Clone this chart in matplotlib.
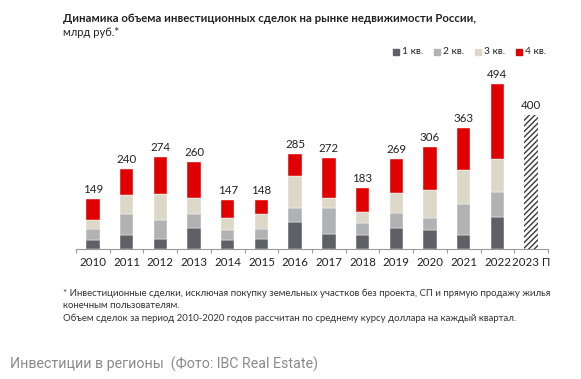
import matplotlib
matplotlib.use("Agg")
import matplotlib.pyplot as plt
import numpy as np

years = ["2010", "2011", "2012", "2013", "2014", "2015", "2016", "2017",
         "2018", "2019", "2020", "2021", "2022", "2023 П"]
q1 = [28, 43, 29, 62, 26, 31, 80, 45, 41, 64, 56, 41, 97]
q2 = [32, 63, 58, 42, 30, 30, 43, 79, 36, 45, 36, 95, 73]
q3 = [28, 55, 78, 49, 36, 43, 97, 29, 35, 59, 85, 101, 98]
totals = [149, 240, 274, 260, 147, 148, 285, 272, 183, 269, 306, 363, 494]
forecast = 400
q4 = [t - a - b - c for t, a, b, c in zip(totals, q1, q2, q3)]

labels = ["1 кв.", "2 кв.", "3 кв.", "4 кв."]
colors = ["#5e6065", "#b1b2b4", "#dcd7c7", "#e00000"]

plt.rcParams["font.family"] = ["Lato", "DejaVu Sans"]
W, H = 581, 379
fig = plt.figure(figsize=(W / 100, H / 100), dpi=100)
fig.patch.set_facecolor("white")

unit = 0.334  # px per value
ytop = 520
base_px = 249
ax = fig.add_axes([76 / W, (H - base_px) / H, 472 / W, ytop * unit / H])

x = np.arange(len(totals))
bw = 0.4
bottom = np.zeros(len(totals))
for vals, c in zip([q1, q2, q3, q4], colors):
    ax.bar(x, vals, bw, bottom=bottom, color=c, edgecolor="white", linewidth=0.3)
    bottom += np.array(vals)

ax.bar([len(totals)], [forecast], bw, color="white", edgecolor="#3a3a3a",
       hatch="//////", linewidth=0)

for xi, t in zip(list(x) + [len(totals)], totals + [forecast]):
    ax.text(xi, t + 12, str(t), ha="center", va="bottom", fontsize=8.3, color="#222222")

ax.set_xlim(-0.5, 13.5)
ax.set_ylim(0, ytop)
ax.set_yticks([])
for s in ["top", "right", "left"]:
    ax.spines[s].set_visible(False)
ax.spines["bottom"].set_color("#9a9a9a")
ax.spines["bottom"].set_linewidth(0.8)
ax.set_xticks(np.arange(len(years)))
ax.set_xticklabels(years, fontsize=8.3, color="#222222")
ax.tick_params(axis="x", which="major", length=0, pad=6)
ax.set_xticks(np.arange(-0.5, len(years)), minor=True)
ax.tick_params(axis="x", which="minor", length=3, color="#9a9a9a", width=0.8)

fig.text(63 / W, 1 - 18 / H, "Динамика объема инвестиционных сделок на рынке недвижимости России,",
         fontsize=8.2, fontweight="bold", color="#222222", va="center")
fig.text(63 / W, 1 - 33 / H, "млрд руб.*", fontsize=8, color="#222222", va="center")

leg_x = [393, 434, 475, 516]
for lx, lab, c in zip(leg_x, labels, colors):
    fig.patches.append(plt.Rectangle((lx / W, 1 - 55 / H), 6 / W, 6 / H,
                                     transform=fig.transFigure, color=c))
    fig.text((lx + 9) / W, 1 - 52 / H, lab, fontsize=7.3, color="#222222", va="center")

fn = ["* Инвестиционные сделки, исключая покупку земельных участков без проекта, СП и прямую продажу жилья",
      "конечным пользователям.",
      "Объем сделок за период 2010-2020 годов рассчитан по среднему курсу доллара на каждый квартал."]
for i, line in enumerate(fn):
    fig.text(63 / W, 1 - (293 + 12.5 * i) / H, line, fontsize=6.9, color="#333333", va="center")

fig.text(10 / W, 1 - 364 / H, "Инвестиции в регионы  (Фото: IBC Real Estate)",
         fontsize=10.3, color="#8a8a8a", va="center", family=["Roboto", "DejaVu Sans"])

fig.savefig("out.png", dpi=100, facecolor="white")
